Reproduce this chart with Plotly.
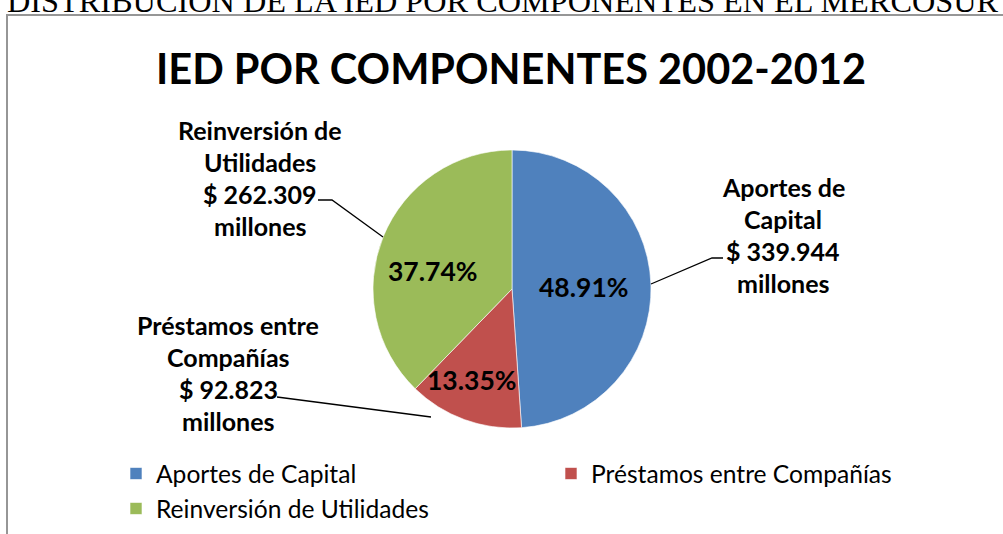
import plotly.graph_objects as go

# ---- data ----
categories = ["Aportes de Capital", "Préstamos entre Compañías", "Reinversión de Utilidades"]
values = [339944, 92823, 262309]          # millones
colors = ["#4F81BD", "#C0504D", "#9BBB59"]
title_text = "IED POR COMPONENTES 2002-2012"
header_text = "DISTRIBUCIÓN DE LA IED POR COMPONENTES EN EL MERCOSUR"

# ---- layout helpers (pixels -> paper) ----
W, H = 1003, 534
def px(x):
    return x / W
def py(y):
    return 1 - y / H

cx, cy, r = 512, 289, 139
FONT = "Lato"
total = sum(values)

fig = go.Figure()
fig.add_trace(go.Pie(
    labels=categories,
    values=values,
    sort=False,
    direction="clockwise",
    rotation=0,
    marker=dict(colors=colors, line=dict(color="rgba(255,255,255,0.6)", width=1)),
    textinfo="none",
    domain=dict(x=[px(cx - r), px(cx + r)], y=[py(cy + r), py(cy - r)]),
    hoverinfo="label+value+percent",
))

annotations = []
# header (cut-off text above the chart frame)
annotations.append(dict(text=header_text, x=px(5), y=py(21), xref="paper", yref="paper",
                        xanchor="left", yanchor="bottom", showarrow=False,
                        font=dict(family="Liberation Serif", size=32.3, color="black")))
# title
annotations.append(dict(text="<b>" + title_text + "</b>", x=px(511), y=py(68), xref="paper", yref="paper",
                        xanchor="center", yanchor="middle", showarrow=False,
                        font=dict(family=FONT, size=41.5, color="black")))

# percentage labels inside slices
pct_pos = [(584, 287), (472, 380), (433, 271)]
for v, (lx, ly) in zip(values, pct_pos):
    annotations.append(dict(text="<b>" + f"{v / total * 100:.2f}%" + "</b>", x=px(lx), y=py(ly),
                            xref="paper", yref="paper", xanchor="center", yanchor="middle",
                            showarrow=False, font=dict(family=FONT, size=26.5, color="black")))

# outside labels: name (2 lines) + amount + "millones"
label_top = [(783, 187), (228, 325), (260, 130)]
line_step = 32
for cat, v, (lx, ly) in zip(categories, values, label_top):
    first, second = cat.rsplit(" ", 1)
    amount = "$ " + f"{v / 1000:.3f}"
    lines = [first, second, amount, "millones"]
    for i, t in enumerate(lines):
        annotations.append(dict(text="<b>" + t + "</b>", x=px(lx), y=py(ly + i * line_step),
                                xref="paper", yref="paper", xanchor="center", yanchor="middle",
                                showarrow=False, font=dict(family=FONT, size=25, color="black")))

# leader lines (label layout)
leaders = [
    [(651, 284), (712, 258), (723, 258)],
    [(277, 397), (431, 417)],
    [(318, 200), (332, 200), (383, 237)],
]
shapes = []
for pts in leaders:
    path = "M " + " L ".join(f"{px(x):.5f},{py(y):.5f}" for x, y in pts)
    shapes.append(dict(type="path", path=path, xref="paper", yref="paper",
                       line=dict(color="black", width=1.3)))
# chart frame
shapes.append(dict(type="rect", xref="paper", yref="paper", x0=px(7), x1=px(1015),
                   y0=py(545), y1=py(15), line=dict(color="#969696", width=2)))

fig.update_layout(
    width=W, height=H, autosize=False,
    margin=dict(l=0, r=0, t=0, b=0),
    paper_bgcolor="white", plot_bgcolor="white",
    annotations=annotations, shapes=shapes,
    showlegend=True,
    legend=dict(orientation="h", x=px(116), y=py(451), xanchor="left", yanchor="top",
                entrywidth=390, font=dict(family=FONT, size=24.6, color="black"),
                bgcolor="rgba(0,0,0,0)", traceorder="normal"),
)
fig.write_html("out.html", config={"displayModeBar": False},
               post_script="document.body.style.margin='0px';document.body.style.overflow='hidden';")
